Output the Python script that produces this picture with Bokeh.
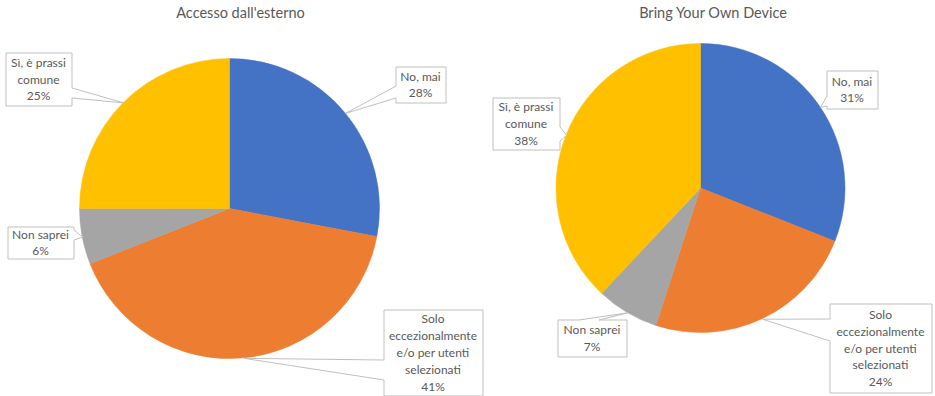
import math
from bokeh.plotting import figure
from bokeh.models import Range1d, ColumnDataSource
from bokeh.core.properties import value
from bokeh.embed import file_html
from bokeh.resources import INLINE

# ---------------- data ----------------
titles = ["Accesso dall'esterno", "Bring Your Own Device"]
categories = ["No, mai", "Solo eccezionalmente e/o per utenti selezionati",
              "Non saprei", "Sì, è prassi comune"]
accesso_values = [28, 41, 6, 25]
byod_values = [31, 24, 7, 38]
colors = ["#4472C4", "#ED7D31", "#A5A5A5", "#FFC000"]
# category names as wrapped inside the callouts
label_lines = [["No, mai"],
               ["Solo", "eccezionalmente", "e/o per utenti", "selezionati"],
               ["Non saprei"],
               ["Sì, è prassi", "comune"]]

# ---------------- layout (screen pixel coords) ----------------
W, H = 935, 396
FONT = "Lato"
TXT = "#595959"
BORDER = "#BFBFBF"
LINE_H = 16.8


def sy(y):
    return 396 - y


charts = [
    dict(values=accesso_values, title=titles[0], cx=229, cy=208, r=150, title_x=240,
         boxes=[(395, 66, 445, 102, "left", (85, 97)),
                (383, 309, 482, 395, "left", (359, 379)),
                (7, 226, 73, 258, "right", (229, 239)),
                (5, 52, 71, 105, "right", (87, 97))]),
    dict(values=byod_values, title=titles[1], cx=700, cy=187.5, r=144.5, title_x=713,
         boxes=[(826, 70, 877, 108, "left", (95, 105)),
                (829, 303, 931, 392, "left", (318, 340)),
                (557, 319, 626, 356, "top", (578, 598)),
                (492, 97, 559, 149, "right", (126, 140))]),
]

p = figure(width=W, height=H, output_backend="svg", toolbar_location=None,
           x_range=Range1d(0, W), y_range=Range1d(sy(H), sy(0)),
           x_axis_location=None, y_axis_location=None, min_border=0,
           outline_line_color=None, background_fill_color="white",
           border_fill_color="white")
p.grid.visible = False


def callout(x0, y0, x1, y1, side, b, tip):
    if side == "left":
        pts = [(x0, y0), (x1, y0), (x1, y1), (x0, y1), (x0, b[1]), tip, (x0, b[0])]
    elif side == "right":
        pts = [(x0, y0), (x1, y0), (x1, b[0]), tip, (x1, b[1]), (x1, y1), (x0, y1)]
    else:  # top
        pts = [(x0, y0), (b[0], y0), tip, (b[1], y0), (x1, y0), (x1, y1), (x0, y1)]
    return [q[0] + 0.5 for q in pts], [sy(q[1]) - 0.5 for q in pts]


tx, ty, tt = [], [], []
for ch in charts:
    vals = ch["values"]
    total = float(sum(vals))
    cum = 0.0
    starts, ends, mids = [], [], []
    for v in vals:
        c0 = cum / total
        cum += v
        c1 = cum / total
        starts.append(math.pi / 2 - 2 * math.pi * c1)
        ends.append(math.pi / 2 - 2 * math.pi * c0)
        mids.append(math.pi / 2 - 2 * math.pi * (c0 + c1) / 2)
    src = ColumnDataSource(dict(x=[ch["cx"]] * len(vals), y=[sy(ch["cy"])] * len(vals),
                                s=starts, e=ends, c=colors))
    p.wedge(x="x", y="y", radius=ch["r"], start_angle="s", end_angle="e",
            fill_color="c", line_color="c", line_width=0.5, source=src)

    xs, ys = [], []
    for i, (x0, y0, x1, y1, side, b) in enumerate(ch["boxes"]):
        tip = (ch["cx"] + ch["r"] * math.cos(mids[i]),
               ch["cy"] - ch["r"] * math.sin(mids[i]))
        px, py = callout(x0, y0, x1, y1, side, b, tip)
        xs.append(px)
        ys.append(py)
        lines = label_lines[i] + [f"{vals[i]}%"]
        n = len(lines)
        cyb = (y0 + y1) / 2
        for k, ln in enumerate(lines):
            tx.append((x0 + x1) / 2)
            ty.append(sy(cyb + (k - (n - 1) / 2) * LINE_H))
            tt.append(ln)
    p.patches(xs=xs, ys=ys, fill_color="white", line_color=BORDER, line_width=1)

    p.text(x=[ch["title_x"]], y=[sy(12)], text=[ch["title"]], text_align="center",
           text_baseline="middle", text_font=value(FONT), text_font_size="14.5px",
           text_color=TXT)

p.text(x=tx, y=ty, text=tt, text_align="center", text_baseline="middle",
       text_font=value(FONT), text_font_size="12px", text_color=TXT)

open("out.html", "w").write(file_html(p, INLINE))
